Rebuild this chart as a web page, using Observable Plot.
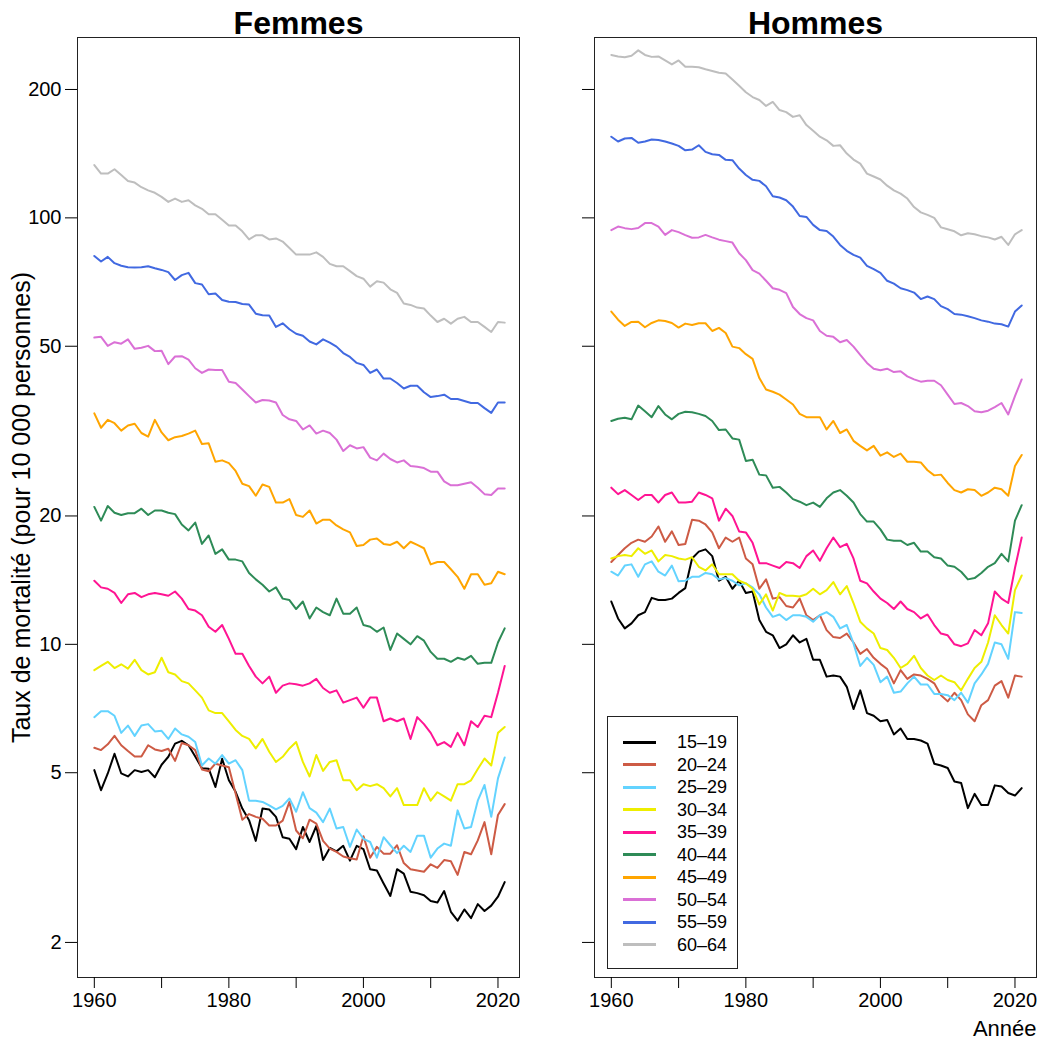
<!DOCTYPE html>
<html><head><meta charset="utf-8">
<script src="https://cdn.jsdelivr.net/npm/d3@7"></script>
<script src="https://cdn.jsdelivr.net/npm/@observablehq/plot@0.6"></script>
<style>
body{margin:0;background:#fff;font-family:"Liberation Sans",Arial,Helvetica,sans-serif;}
#wrap{position:relative;width:1042px;height:1046px;overflow:hidden;}
#wrap svg{position:absolute;top:0;}
</style></head><body><div id="wrap"></div>
<script>
const years = [1960,1961,1962,1963,1964,1965,1966,1967,1968,1969,1970,1971,1972,1973,1974,1975,1976,1977,1978,1979,1980,1981,1982,1983,1984,1985,1986,1987,1988,1989,1990,1991,1992,1993,1994,1995,1996,1997,1998,1999,2000,2001,2002,2003,2004,2005,2006,2007,2008,2009,2010,2011,2012,2013,2014,2015,2016,2017,2018,2019,2020,2021];
const ages = ["15–19","20–24","25–29","30–34","35–39","40–44","45–49","50–54","55–59","60–64"];
const colors = ["#000000","#CD5B45","#63D3FF","#EEEE00","#FF1493","#2E8B57","#FFA500","#DA70D6","#4169E1","#BEBEBE"];
const sexes = ["Femmes","Hommes"];
const yTicks = [2,5,10,20,50,100,200];
const xTicks = [1960,1970,1980,1990,2000,2010,2020];
const xLabels = [1960,1980,2000,2020];
const yTitle = "Taux de mortalité (pour 10 000 personnes)";
const xTitle = "Année";

// Femmes
const F_15_19 = [5.07,4.55,4.98,5.54,4.98,4.9,5.07,5.02,5.07,4.88, 5.22,5.45,5.85,5.94,5.8,5.46,5.12,5.11,4.63,5.39, 4.8,4.51,4.12,3.87,3.46,4.12,4.1,3.94,3.53,3.5, 3.31,3.73,3.44,3.75,3.12,3.33,3.27,3.37,3.11,3.37, 3.31,2.97,2.95,2.75,2.57,2.97,2.9,2.63,2.61,2.58, 2.5,2.48,2.64,2.36,2.25,2.39,2.28,2.46,2.37,2.44,2.56,2.77];
const F_20_24 = [5.72,5.65,5.83,6.1,5.8,5.62,5.46,5.46,5.8,5.67, 5.62,5.69,5.33,5.87,5.8,5.65,5.09,5.04,5.25,5.2, 5.15,4.47,3.88,4.0,3.94,3.9,3.76,3.76,3.86,4.27, 3.66,3.51,3.88,3.8,3.46,3.32,3.26,3.18,3.15,3.13, 3.55,3.16,3.35,3.23,3.23,3.38,3.07,2.97,2.95,2.93, 3.05,2.99,3.12,3.1,2.88,3.26,3.22,3.47,3.83,3.22,3.98,4.22];
const F_25_29 = [6.75,6.97,6.97,6.8,6.2,6.45,6.1,6.45,6.5,6.25, 6.27,6.0,6.35,6.15,6.07,5.9,5.2,5.4,5.25,5.5, 5.25,5.35,5.07,4.3,4.3,4.27,4.19,4.1,4.18,4.35, 4.05,4.5,4.13,4.03,3.83,4.12,3.7,3.73,3.35,3.68, 3.5,3.44,3.16,3.53,3.38,3.24,3.37,3.26,3.56,3.56, 3.16,3.32,3.41,3.37,4.08,3.7,3.73,4.3,4.68,3.94,4.85,5.43];
const F_30_34 = [8.7,8.9,9.1,8.8,8.98,8.77,9.2,8.7,8.5,8.6, 9.3,8.6,8.5,8.2,8.1,7.8,7.5,7.0,6.9,6.9, 6.6,6.3,6.1,6.0,5.7,6.0,5.6,5.3,5.45,5.7, 5.9,5.3,4.9,5.5,5.05,5.3,5.35,4.8,4.8,4.55, 4.7,4.65,4.7,4.6,4.4,4.6,4.2,4.2,4.2,4.6, 4.3,4.5,4.4,4.3,4.7,4.7,4.8,5.1,5.4,5.2,6.2,6.4];
const F_35_39 = [14.1,13.6,13.5,13.2,12.5,13.1,13.2,12.9,13.1,13.2, 13.1,13.0,13.3,12.8,12.1,12.0,11.7,11.0,10.7,11.1, 10.3,9.5,9.5,8.9,8.4,8.1,8.4,7.7,8.0,8.1, 8.06,8.0,8.1,8.3,7.9,7.7,7.8,7.3,7.4,7.5, 7.1,7.5,7.5,6.6,6.7,6.6,6.7,6.0,6.75,6.5, 6.2,5.8,5.9,5.75,6.2,5.8,6.6,6.4,6.8,6.75,7.7,8.9];
const F_40_44 = [21.0,19.5,21.1,20.35,20.1,20.3,20.3,20.8,20.1,20.6, 20.6,20.35,20.2,19.1,18.5,19.3,17.2,18.0,16.3,16.7, 15.8,15.8,15.65,14.7,14.2,13.8,13.3,13.6,12.8,12.7, 12.1,12.6,11.5,12.2,11.9,11.7,12.8,11.8,11.8,12.2, 11.1,11.0,10.7,10.95,9.7,10.6,10.3,10.0,10.45,10.2, 9.6,9.25,9.25,9.1,9.3,9.2,9.4,9.0,9.05,9.05,10.1,10.9];
const F_45_49 = [34.8,32.2,33.6,33.0,31.7,32.6,32.9,31.3,30.7,33.6, 31.4,30.1,30.6,30.8,31.2,31.7,29.5,29.6,26.8,27.0, 26.6,25.5,23.8,23.5,22.3,23.7,23.4,21.5,21.5,21.9, 20.1,19.9,20.6,19.2,19.6,19.6,19.0,18.6,18.3,17.0, 17.1,17.6,17.7,17.2,17.1,17.4,16.8,17.4,17.1,16.8, 15.4,15.6,15.6,15.0,14.4,13.5,14.6,14.6,13.8,13.9,14.8,14.6];
const F_50_54 = [52.4,52.6,50.1,51.1,50.7,51.9,49.3,49.6,50.1,48.7, 48.8,45.4,47.3,47.4,46.5,44.4,43.3,44.1,44.0,44.0, 41.3,41.0,39.6,38.2,36.9,37.4,37.3,36.9,34.5,33.7, 33.4,31.9,32.6,31.2,31.7,31.3,30.2,28.4,29.3,28.8, 29.0,27.4,27.0,28.0,27.2,26.7,27.0,26.2,26.1,25.9, 25.4,25.4,24.1,23.6,23.6,23.8,24.0,23.3,22.5,22.4,23.2,23.2];
const F_55_59 = [81.4,79,81,78.3,77.2,76.6,76.5,76.6,77,76.2, 75.5,74.6,71.5,73.4,74.3,70.3,69.8,66.2,66.5,64.2, 63.6,63.5,62.8,62.6,59.6,59.1,59,55.5,56.6,54.8, 53.5,52.9,51.3,50.5,51.9,51,49.9,48.2,47.2,45.7, 45.2,43.3,44.1,42,42,41,39.8,40.4,40.4,39, 38,38.2,38.5,37.6,37.6,37.2,36.8,36.8,35.8,34.9,36.9,36.9];
const F_60_64 = [133,127,127,130,126,122,121,118,116,114.5, 112,109,111,109,110,107,105,102,102,99, 96,96,93,89,91,91,89,89.5,88,85, 82,82,82,83,81,78,77,77,75,73, 72,69,71,70.5,68,66.7,63,62.5,61.6,61.3, 59,57,58,56.5,58,58.6,57,57,55.5,54,57,56.8];

// Hommes
const M_15_19 = [12.6,11.5,10.9,11.2,11.7,11.9,12.85,12.7,12.7,12.8, 13.2,13.55,15.9,16.5,16.7,16.1,14.1,14.4,13.5,14.1, 13.2,13.3,11.4,10.7,10.5,9.8,10.0,10.5,10.1,10.3, 9.2,9.2,8.4,8.45,8.4,7.95,7.05,7.8,6.9,6.8, 6.6,6.65,6.15,6.35,6.0,6.0,5.95,5.85,5.25,5.2, 5.13,4.77,4.73,4.13,4.46,4.2,4.2,4.67,4.64,4.48,4.42,4.6];
const M_20_24 = [15.6,16.2,16.8,17.3,17.6,17.4,17.9,18.9,17.4,18.4, 17.1,17.2,19.6,19.5,19.1,18.3,16.8,17.8,17.4,17.8, 15.9,15.4,13.5,14.2,12.8,12.9,12.3,12.2,12.8,11.7, 11.4,11.7,10.8,10.4,10.35,10.6,10.1,9.5,9.75,9.3, 9.0,8.75,8.1,8.7,8.3,8.5,8.45,8.3,8.1,7.6, 7.35,7.7,7.4,6.85,6.6,7.2,7.4,8.0,8.2,7.5,8.45,8.4];
const M_25_29 = [14.8,14.5,15.3,15.4,14.4,15.4,15.65,14.8,14.5,15.3, 14.05,14.1,14.4,14.4,14.7,14.6,14.2,14.3,14.1,13.75, 13.9,13.6,13.1,12.2,11.6,11.75,11.4,11.7,11.7,11.6, 11.3,11.7,11.9,11.6,10.9,11.1,10.05,8.9,9.3,8.95, 8.15,8.4,7.7,7.75,8.1,8.4,8.05,8.05,7.65,7.65, 7.6,7.4,7.7,7.3,8.1,8.5,9.0,10.1,10.0,9.25,11.9,11.85];
const M_30_34 = [15.9,16.1,16.2,16.1,16.8,16.3,16.6,15.65,16.2,16.1, 15.9,15.8,16.0,15.2,14.9,15.4,14.6,14.6,14.6,14.1, 13.9,13.5,12.4,13.1,12.0,13.2,13.0,13.0,12.95,13.1, 13.5,13.1,13.4,14.0,13.1,13.7,12.5,11.3,10.9,10.6, 9.8,9.7,9.3,8.8,9.0,9.4,8.8,8.45,8.25,8.45, 8.25,8.15,7.8,8.3,8.8,9.1,10.1,11.7,11.1,10.6,13.4,14.5];
const M_35_39 = [23.3,22.5,23.0,22.4,21.8,22.4,22.4,21.5,22.4,22.7, 21.5,21.5,21.6,22.7,22.4,22.0,19.5,20.8,20.0,18.4, 18.3,17.3,15.5,15.5,15.3,15.1,15.6,15.5,15.1,16.1, 16.6,15.7,16.8,17.8,16.9,17.2,15.9,14.1,13.9,13.3, 12.8,12.5,12.1,12.6,12.1,11.9,11.5,11.75,11.1,10.6, 10.5,10.0,9.9,10.05,10.8,10.5,11.2,13.3,12.8,12.5,15.1,17.8];
const M_40_44 = [33.4,33.8,34.0,33.7,36.3,35.2,34.1,36.2,34.6,33.7, 34.7,35.1,35.0,34.7,34.3,33.4,31.8,31.9,30.4,30.2, 26.9,27.1,25.0,24.9,23.3,23.4,22.7,21.9,21.6,21.2, 21.5,21.0,22.0,22.7,23.0,22.3,21.5,20.2,19.4,19.4, 18.6,17.6,17.5,17.5,17.1,17.3,16.5,16.5,16.0,15.9, 15.3,15.2,14.8,14.2,14.3,14.7,15.2,15.5,16.3,15.65,19.5,21.2];
const M_45_49 = [60.3,57.7,55.8,57.0,57.1,55.4,56.7,57.5,57.3,56.7, 55.3,56.5,56.1,56.6,56.6,54.3,55.2,53.7,49.9,49.5, 47.9,46.7,42.1,39.6,39.1,38.5,37.5,36.5,34.7,34.1, 34.1,34.1,31.9,33.4,31.3,31.9,30.0,29.2,28.5,29.2, 27.7,28.2,27.5,28.0,26.8,26.8,26.7,25.6,24.9,25.0, 23.9,23.0,22.7,23.1,23.0,22.3,22.7,23.3,23.1,22.3,26.2,27.8];
const M_50_54 = [93.6,95.4,94.6,94.1,94.7,97.2,97.2,95.4,91.2,93.6, 92.6,91.1,89.8,90.0,91.2,90.0,88.9,88.2,87.5,82.6, 79.6,75.4,74.0,71.2,68.4,67.8,66.6,61.8,59.5,58.2, 57.5,54.3,52.9,52.6,51.1,51.7,49.9,47.7,45.7,44.3, 43.9,44.3,43.5,43.7,42.5,41.8,41.3,41.5,41.5,40.5, 38.5,36.6,36.8,36.2,35.2,35.0,35.3,36.0,36.8,34.6,38.2,41.8];
const M_55_59 = [155,151,153.5,154,150,151,152.6,152.3,151,149.4, 147.5,144,144.6,148,142.8,141,140.5,136.8,136.5,130.5, 126,122.8,122.1,118.6,112.4,111.6,110,106.3,101,100.5, 96.3,93.6,93.2,90.4,86.4,83.7,81.9,80.7,77.2,75.8, 74.3,71.2,70.1,68.4,67.7,66.8,64.5,65.4,64.5,62.1, 61.1,59.5,59.3,58.8,58.2,57.5,57.1,56.5,56.3,55.6,60.3,62.3];
const M_60_64 = [241,239,238,240,247,241,238.5,239,234,229, 234,226,226,225.6,223,221,219,218,211,204, 197,192,189,183,187,179,177,172.5,174,165, 160,155,152,147.5,148,141.5,137,134,127,125, 123,119,116,114,111,106,103,101.6,100,95, 94,93,91,92,91.5,90.6,90,89,90.3,86.4,91.5,93.6];

const series = {
  Femmes: [F_15_19,F_20_24,F_25_29,F_30_34,F_35_39,F_40_44,F_45_49,F_50_54,F_55_59,F_60_64],
  Hommes: [M_15_19,M_20_24,M_25_29,M_30_34,M_35_39,M_40_44,M_45_49,M_50_54,M_55_59,M_60_64]
};

const FONT = '"Liberation Sans", Arial, Helvetica, sans-serif';

function rowsFor(sex) {
  const rows = [];
  series[sex].forEach((vals, a) => {
    vals.forEach((v, i) => rows.push({age: ages[a], year: years[i], value: v}));
  });
  return rows;
}

function panel(sex, o) {
  const marks = [
    Plot.frame({stroke: "#222", strokeWidth: 1}),
    Plot.axisY({ticks: yTicks, tickSize: 12, tickPadding: 4,
      tickFormat: o.labels ? (d => String(d)) : (() => ""), label: null, fontSize: 20}),
    Plot.axisX({ticks: xTicks, tickSize: 11, tickPadding: 4,
      tickFormat: d => xLabels.includes(d) ? String(d) : "", label: null, fontSize: 20}),
    Plot.line(rowsFor(sex), {x: "year", y: "value", z: "age", stroke: "age", strokeWidth: 2}),
    Plot.text([sex], {frameAnchor: "top", dy: -26, fontSize: 32, fontWeight: "bold", fill: "black"})
  ];
  if (o.labels) {
    marks.push(Plot.text([yTitle], {frameAnchor: "left", textAnchor: "middle", dx: -56, rotate: -90, fontSize: 25, fill: "black"}));
  } else {
    marks.push(Plot.text([xTitle], {frameAnchor: "bottom-right", textAnchor: "end", dy: 58, fontSize: 22, fill: "black"}));
  }
  return Plot.plot({
    width: o.width, height: 1046,
    marginLeft: o.ml, marginRight: o.mr, marginTop: 37, marginBottom: 69,
    style: {fontFamily: FONT, fontSize: "20px", background: "transparent", overflow: "visible", color: "black"},
    x: {domain: [1957.5, 2023.2]},
    y: {type: "log", domain: [1.655, 264.8]},
    color: {domain: ages, range: colors},
    marks
  });
}

const wrap = document.getElementById("wrap");
const left = panel("Femmes", {width: 530, ml: 77, mr: 11, labels: true});
left.style.left = "0px";
wrap.appendChild(left);
const right = panel("Hommes", {width: 522, ml: 74, mr: 6, labels: false});
right.style.left = "520px";
wrap.appendChild(right);

// Legend
const lg = document.createElement("div");
lg.style.cssText = "position:absolute;left:607px;top:716px;width:131px;height:253px;border:1px solid #222;box-sizing:border-box;background:#fff;font-family:" + FONT + ";font-size:18px;";
ages.forEach((a, i) => {
  const cy = 25 + 22.5 * i;
  const ln = document.createElement("div");
  ln.style.cssText = `position:absolute;left:15px;top:${cy - 1.5}px;width:33px;height:3px;background:${colors[i]};`;
  const tx = document.createElement("div");
  tx.style.cssText = `position:absolute;left:69px;top:${cy - 11}px;height:22px;line-height:22px;color:#000;`;
  tx.textContent = a;
  lg.appendChild(ln); lg.appendChild(tx);
});
wrap.appendChild(lg);
</script></body></html>
